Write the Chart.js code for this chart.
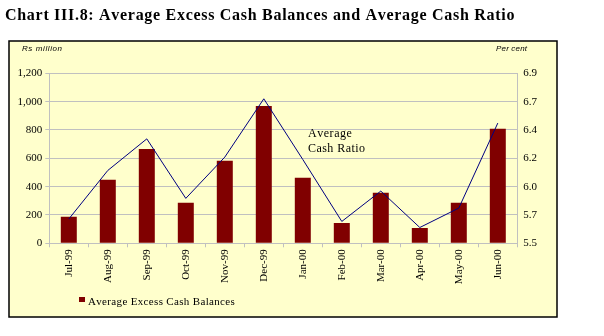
<!DOCTYPE html>
<html><head><meta charset="utf-8">
<script src="https://cdn.jsdelivr.net/npm/chart.js@4/dist/chart.umd.min.js"></script>
<style>html,body{margin:0;padding:0;background:#fff}#wrap{width:604px;height:336px;position:relative}</style>
</head><body><div id="wrap"><canvas id="c" width="604" height="336"></canvas></div>
<script>
const categories = ['Jul-99','Aug-99','Sep-99','Oct-99','Nov-99','Dec-99','Jan-00','Feb-00','Mar-00','Apr-00','May-00','Jun-00'];
const excessCashBalances = [187, 448, 666, 286, 582, 970, 462, 144, 357, 108, 287, 809];
const averageCashRatio = [5.70, 6.10, 6.36, 5.87, 6.21, 6.69, 6.19, 5.68, 5.93, 5.63, 5.79, 6.49];
const leftTickValues = [0, 200, 400, 600, 800, 1000, 1200];
const rightTickValues = [5.5, 5.7333, 5.9667, 6.2, 6.4333, 6.6667, 6.9];
const rightTickLabels = ['5.5','5.7','6.0','6.2','6.4','6.7','6.9'];

const SERIF = '"Liberation Serif", "Times New Roman", serif';
const SANS = '"Liberation Sans", Arial, sans-serif';

function drawSpaced(ctx, text, x, y, width, font, color) {
  ctx.save();
  ctx.font = font;
  ctx.fillStyle = color || '#000';
  ctx.textBaseline = 'alphabetic';
  ctx.textAlign = 'left';
  const w = ctx.measureText(text).width;
  const sp = text.length > 1 ? Math.max(0, (width - w) / (text.length - 1)) : 0;
  let cx = x;
  for (const ch of text) {
    ctx.fillText(ch, cx, y);
    cx += ctx.measureText(ch).width + sp;
  }
  ctx.restore();
}

const decor = {
  id: 'decor',
  beforeDraw(chart) {
    const ctx = chart.ctx;
    ctx.save();
    ctx.fillStyle = '#ffffff';
    ctx.fillRect(0, 0, chart.width, chart.height);
    ctx.fillStyle = '#FFFFCC';
    ctx.fillRect(9, 41, 548, 276);
    ctx.strokeStyle = '#000';
    ctx.lineWidth = 1.5;
    ctx.strokeRect(9, 41, 548, 276);
    ctx.restore();
    drawSpaced(ctx, 'Chart III.8: Average Excess Cash Balances and Average Cash Ratio', 5, 20, 507, 'bold 16px ' + SERIF);
    drawSpaced(ctx, 'Rs million', 22, 51, 40, 'italic 8px ' + SANS);
    drawSpaced(ctx, 'Per cent', 496, 51, 31, 'italic 8px ' + SANS);
  },
  afterDraw(chart) {
    const ctx = chart.ctx;
    drawSpaced(ctx, 'Average', 308, 137, 43, '12px ' + SERIF);
    drawSpaced(ctx, 'Cash Ratio', 308, 152, 57, '12px ' + SERIF);
    const ds = chart.data.datasets[1];
    ctx.save();
    ctx.fillStyle = ds.backgroundColor;
    ctx.fillRect(79, 297, 6, 5);
    ctx.restore();
    drawSpaced(ctx, ds.label, 88, 305, 146, '11px ' + SERIF);
  }
};

new Chart(document.getElementById('c'), {
  data: {
    labels: categories,
    datasets: [
      { type: 'line', label: 'Average Cash Ratio', data: averageCashRatio, yAxisID: 'y1',
        borderColor: '#000080', borderWidth: 1, pointRadius: 0, tension: 0, fill: false, order: 0 },
      { type: 'bar', label: 'Average Excess Cash Balances', data: excessCashBalances, yAxisID: 'y',
        backgroundColor: '#800000', borderWidth: 0, barPercentage: 0.41, categoryPercentage: 1, order: 1 }
    ]
  },
  options: {
    responsive: false, animation: false, devicePixelRatio: 1,
    layout: { padding: { top: 73.3, left: 0, right: 0, bottom: 0 } },
    plugins: { legend: { display: false }, title: { display: false }, tooltip: { enabled: false } },
    scales: {
      x: {
        offset: true,
        grid: { offset: true, drawOnChartArea: false, drawTicks: true, tickLength: 4, color: '#c0c0c0' },
        border: { color: '#c0c0c0', width: 1 },
        ticks: { minRotation: 90, maxRotation: 90, autoSkip: false, color: '#000', padding: 2,
                 font: { family: SERIF, size: 11 } },
        afterFit(s) { s.height = 92.7; }
      },
      y: {
        position: 'left', min: 0, max: 1200,
        afterBuildTicks(s) { s.ticks = leftTickValues.map(v => ({ value: v })); },
        grid: { color: '#c0c0c0', lineWidth: 1, tickLength: 4 },
        border: { color: '#c0c0c0', width: 1 },
        ticks: { color: '#000', padding: 3, font: { family: SERIF, size: 11 },
                 callback: v => v.toLocaleString('en-US') },
        afterFit(s) { s.width = 49.3; }
      },
      y1: {
        position: 'right', min: 5.5, max: 6.9,
        afterBuildTicks(s) { s.ticks = rightTickValues.map(v => ({ value: v })); },
        grid: { drawOnChartArea: false, drawTicks: false },
        border: { color: '#c0c0c0', width: 1 },
        ticks: { color: '#000', padding: 6, font: { family: SERIF, size: 11 },
                 callback: (v, i) => rightTickLabels[i] },
        afterFit(s) { s.width = 86.7; }
      }
    }
  },
  plugins: [decor]
});
</script></body></html>
